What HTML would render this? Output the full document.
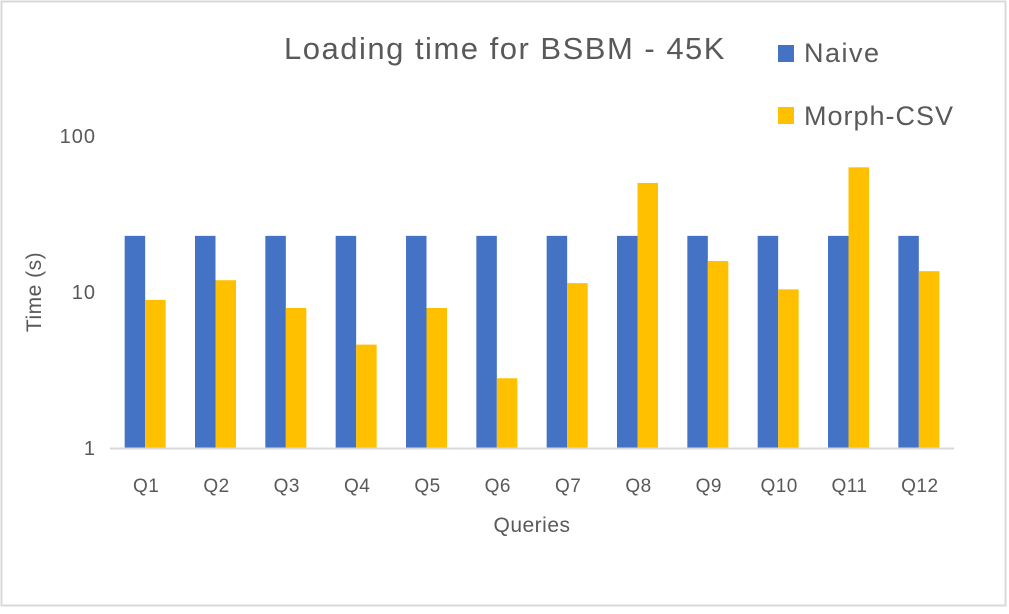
<!DOCTYPE html>
<html><head><meta charset="utf-8"><style>
body{margin:0;background:#fff;}
svg text{font-family:"Liberation Sans",sans-serif;fill:#595959;}
</style></head><body>
<svg width="1009" height="609">
<rect x="1.5" y="1.5" width="1004" height="604" fill="#fff" stroke="#d9d9d9" stroke-width="2"/>
<text x="505" y="59" font-size="31" letter-spacing="1.5" text-anchor="middle">Loading time for BSBM - 45K</text>
<rect x="778" y="45" width="16" height="17" fill="#4472c4"/>
<text x="804" y="62" font-size="27" letter-spacing="1.5">Naive</text>
<rect x="778" y="107" width="16" height="17" fill="#ffc000"/>
<text x="804" y="125" font-size="27" letter-spacing="1">Morph-CSV</text>
<text transform="translate(41,292) rotate(-90)" font-size="21" letter-spacing="0.5" text-anchor="middle">Time (s)</text>
<text x="532" y="532" font-size="21" letter-spacing="0.5" text-anchor="middle">Queries</text>
<g id="plot"></g>
</svg>
<script>
const categories=["Q1","Q2","Q3","Q4","Q5","Q6","Q7","Q8","Q9","Q10","Q11","Q12"];
const naive=[22.9,22.9,22.9,22.9,22.9,22.9,22.9,22.9,22.9,22.9,22.9,22.9];
const morph=[8.9,11.9,7.9,4.6,7.9,2.8,11.4,50,15.8,10.4,63,13.6];
const yTicks=[1,10,100];
const NS="http://www.w3.org/2000/svg";
const g=document.getElementById('plot');
const x0=110,x1=954,yBase=448,decade=156;
const band=(x1-x0)/categories.length;
function y(v){return yBase-Math.log10(v)*decade;}
function xc(i){return x0+band*(i+0.5);}
function mk(t,a){const e=document.createElementNS(NS,t);for(const k in a)e.setAttribute(k,a[k]);g.appendChild(e);return e;}
yTicks.forEach(v=>{
 const t=mk('text',{x:96,y:y(v)+7,'font-size':20,'letter-spacing':1,'text-anchor':'end'});
 t.textContent=v;
 
 
});
const bw=20.5;
categories.forEach((c,i)=>{
 const cx=xc(i);
 const b1=mk('rect',{x:cx-bw,y:y(naive[i]),width:bw,height:yBase-y(naive[i]),fill:'#4472c4'});
 
 
 const b2=mk('rect',{x:cx,y:y(morph[i]),width:bw,height:yBase-y(morph[i]),fill:'#ffc000'});
 
 
 const t=mk('text',{x:cx+1,y:492,'font-size':19,'letter-spacing':0.5,'text-anchor':'middle'});
 t.textContent=c;
 
 
});
const ax=mk('line',{x1:x0,x2:x1,y1:yBase+0.5,y2:yBase+0.5,stroke:'#d9d9d9','stroke-width':2});


</script>
</body></html>
